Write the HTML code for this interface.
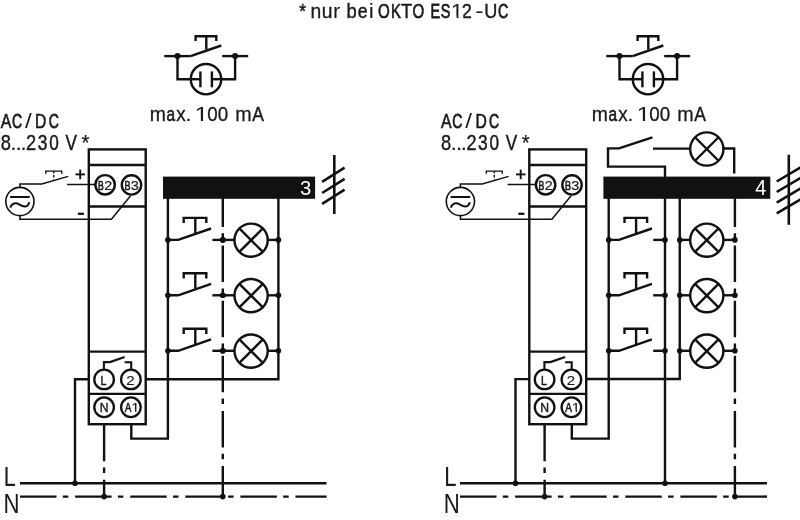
<!DOCTYPE html>
<html><head><meta charset="utf-8"><style>
html,body{margin:0;padding:0;background:#fff;}
svg{display:block;filter:grayscale(1);}
text{font-family:"Liberation Sans",sans-serif;}
</style></head><body>
<svg width="800" height="520" viewBox="0 0 800 520" stroke="#111" stroke-linecap="butt" stroke-linejoin="miter" fill="none">
<rect x="0" y="0" width="800" height="520" fill="#fff" stroke="none"/>
<clipPath id="c1"><rect x="289.50" y="-42.10" width="228.30" height="57.92"/><rect x="289.50" y="15.32" width="161.98" height="22.08"/><rect x="456.51" y="15.32" width="1.99" height="22.08"/><rect x="463.35" y="15.32" width="54.45" height="22.08"/></clipPath>
<text y="17.90" font-size="21.08" fill="#1a1a1a" stroke="#1a1a1a" stroke-width="0.3" clip-path="url(#c1)" ><tspan x="299.22" textLength="6.75" lengthAdjust="spacingAndGlyphs" stroke-width="0.48">*</tspan> <tspan x="310.62" textLength="10.74" lengthAdjust="spacingAndGlyphs" font-size="19.50" stroke-width="0.31">n</tspan><tspan x="321.65" textLength="10.74" lengthAdjust="spacingAndGlyphs" font-size="19.50" stroke-width="0.31">u</tspan><tspan x="333.14" textLength="7.33" lengthAdjust="spacingAndGlyphs" font-size="19.50" stroke-width="0.06">r</tspan> <tspan x="346.41" textLength="10.26" lengthAdjust="spacingAndGlyphs" font-size="19.50" stroke-width="0.38">b</tspan><tspan x="357.85" textLength="9.84" lengthAdjust="spacingAndGlyphs" font-size="19.50" stroke-width="0.45">e</tspan><tspan x="368.76" textLength="5.20" lengthAdjust="spacingAndGlyphs" font-size="19.50" stroke-width="0.00">i</tspan> <tspan x="377.89" textLength="11.74" lengthAdjust="spacingAndGlyphs" stroke-width="0.69">O</tspan><tspan x="391.08" textLength="9.88" lengthAdjust="spacingAndGlyphs" stroke-width="0.71">K</tspan><tspan x="400.99" textLength="11.24" lengthAdjust="spacingAndGlyphs" stroke-width="0.39">T</tspan><tspan x="412.39" textLength="11.74" lengthAdjust="spacingAndGlyphs" stroke-width="0.69">O</tspan> <tspan x="430.44" textLength="9.56" lengthAdjust="spacingAndGlyphs" stroke-width="0.76">E</tspan><tspan x="440.65" textLength="9.62" lengthAdjust="spacingAndGlyphs" stroke-width="0.75">S</tspan><tspan x="450.83" textLength="12.55" lengthAdjust="spacingAndGlyphs" stroke-width="0.01">1</tspan><tspan x="461.68" textLength="10.13" lengthAdjust="spacingAndGlyphs" stroke-width="0.40">2</tspan><tspan x="475.31" textLength="8.42" lengthAdjust="spacingAndGlyphs" stroke-width="0.00">-</tspan><tspan x="484.20" textLength="13.10" lengthAdjust="spacingAndGlyphs" stroke-width="0.41">U</tspan><tspan x="498.01" textLength="10.35" lengthAdjust="spacingAndGlyphs" stroke-width="0.76">C</tspan></text>
<line x1="164.30" y1="56.10" x2="190.60" y2="56.10" stroke-width="2.4" />
<line x1="190.60" y1="56.10" x2="221.30" y2="45.50" stroke-width="2.4" />
<path d="M195.6,41 V36.2 H216.3 V41" stroke-width="2.4" fill="none" />
<line x1="206.30" y1="36.20" x2="206.30" y2="49.60" stroke-width="2.4" />
<line x1="222.20" y1="56.10" x2="248.20" y2="56.10" stroke-width="2.4" />
<circle cx="177.50" cy="56.10" r="3.0" fill="#111" stroke="none"/>
<circle cx="235.10" cy="56.10" r="3.0" fill="#111" stroke="none"/>
<path d="M177.5,56.1 V79.2 H190.8" stroke-width="2.4" fill="none" />
<path d="M235.1,56.1 V79.2 H221.2" stroke-width="2.4" fill="none" />
<circle cx="206.00" cy="79.20" r="15.2" stroke-width="2.4" fill="#fff"/>
<line x1="190.80" y1="79.20" x2="200.40" y2="79.20" stroke-width="2.4" />
<line x1="211.90" y1="79.20" x2="221.20" y2="79.20" stroke-width="2.4" />
<line x1="200.40" y1="71.40" x2="200.40" y2="87.30" stroke-width="2.4" />
<line x1="211.90" y1="71.40" x2="211.90" y2="87.30" stroke-width="2.4" />
<clipPath id="c2"><rect x="141.00" y="60.60" width="132.80" height="57.94"/><rect x="141.00" y="118.04" width="54.31" height="22.06"/><rect x="200.79" y="118.04" width="2.22" height="22.06"/><rect x="208.29" y="118.04" width="65.51" height="22.06"/></clipPath>
<text y="120.60" font-size="20.93" fill="#1a1a1a" stroke="#1a1a1a" stroke-width="0.3" clip-path="url(#c2)" ><tspan x="149.71" textLength="16.17" lengthAdjust="spacingAndGlyphs" font-size="20.54" stroke-width="0.30">m</tspan><tspan x="166.45" textLength="8.55" lengthAdjust="spacingAndGlyphs" font-size="20.54" stroke-width="0.66">a</tspan><tspan x="176.29" textLength="9.41" lengthAdjust="spacingAndGlyphs" font-size="20.54" stroke-width="0.35">x</tspan><tspan x="185.29" textLength="6.42" lengthAdjust="spacingAndGlyphs" stroke-width="0.00">.</tspan> <tspan x="194.47" textLength="13.97" lengthAdjust="spacingAndGlyphs" stroke-width="0.00">1</tspan><tspan x="207.36" textLength="10.47" lengthAdjust="spacingAndGlyphs" stroke-width="0.35">0</tspan><tspan x="217.86" textLength="10.47" lengthAdjust="spacingAndGlyphs" stroke-width="0.35">0</tspan> <tspan x="235.29" textLength="16.41" lengthAdjust="spacingAndGlyphs" font-size="20.54" stroke-width="0.27">m</tspan><tspan x="252.17" textLength="11.67" lengthAdjust="spacingAndGlyphs" stroke-width="0.47">A</tspan></text>
<text y="128.20" font-size="20.64" fill="#1a1a1a" stroke="#1a1a1a" stroke-width="0.3" ><tspan x="0.82" textLength="10.61" lengthAdjust="spacingAndGlyphs" stroke-width="0.61">A</tspan><tspan x="11.99" textLength="10.15" lengthAdjust="spacingAndGlyphs" stroke-width="0.78">C</tspan><tspan x="25.00" textLength="6.75" lengthAdjust="spacingAndGlyphs" stroke-width="0.00">/</tspan><tspan x="35.11" textLength="11.34" lengthAdjust="spacingAndGlyphs" stroke-width="0.63">D</tspan><tspan x="48.79" textLength="10.15" lengthAdjust="spacingAndGlyphs" stroke-width="0.78">C</tspan></text>
<text y="149.70" font-size="21.51" fill="#1a1a1a" stroke="#1a1a1a" stroke-width="0.3" ><tspan x="0.70" textLength="10.19" lengthAdjust="spacingAndGlyphs" stroke-width="0.39">8</tspan><tspan x="10.29" textLength="6.42" lengthAdjust="spacingAndGlyphs" stroke-width="0.00">.</tspan><tspan x="15.39" textLength="6.71" lengthAdjust="spacingAndGlyphs" stroke-width="0.00">.</tspan><tspan x="20.34" textLength="6.57" lengthAdjust="spacingAndGlyphs" stroke-width="0.00">.</tspan><tspan x="26.08" textLength="10.13" lengthAdjust="spacingAndGlyphs" stroke-width="0.40">2</tspan><tspan x="37.64" textLength="9.62" lengthAdjust="spacingAndGlyphs" stroke-width="0.49">3</tspan><tspan x="49.23" textLength="9.54" lengthAdjust="spacingAndGlyphs" stroke-width="0.50">0</tspan> <tspan x="65.42" textLength="11.45" lengthAdjust="spacingAndGlyphs" stroke-width="0.50">V</tspan> <tspan x="81.57" textLength="7.95" lengthAdjust="spacingAndGlyphs" stroke-width="0.21">*</tspan></text>
<circle cx="19.90" cy="201.50" r="14.1" stroke-width="1.6" fill="#fff"/>
<line x1="10.10" y1="197.00" x2="29.70" y2="197.00" stroke-width="2.0" />
<path d="M10.2,207.6 C11.8,203.2 15.5,202.2 19.5,204.6 C23.5,207.0 27.6,207.8 29.4,202.2" stroke-width="2.0" fill="none" />
<path d="M19.9,187.4 V184 H41.7 L68.2,176.4" stroke-width="1.5" fill="none" />
<path d="M45.8,173.8 V171.1 H61.7 V173.8" stroke-width="1.4" fill="none" />
<line x1="53.80" y1="171.00" x2="53.80" y2="179.50" stroke-width="1.4" stroke-dasharray="2.6 1.4"/>
<line x1="67.10" y1="184.50" x2="96.00" y2="184.50" stroke-width="1.5" />
<path d="M19.9,215.6 V219.3 H111.4 L130.6,195.8" stroke-width="1.5" fill="none" />
<line x1="75.50" y1="174.40" x2="85.00" y2="174.40" stroke-width="1.9" />
<line x1="80.20" y1="169.60" x2="80.20" y2="179.20" stroke-width="1.9" />
<line x1="77.80" y1="213.80" x2="83.90" y2="213.80" stroke-width="2.3" />
<rect x="88.8" y="149.4" width="56.90" height="274.80" stroke-width="2.4" fill="none"/>
<line x1="88.80" y1="165.00" x2="145.70" y2="165.00" stroke-width="2.4" />
<line x1="88.80" y1="206.50" x2="145.70" y2="206.50" stroke-width="2.4" />
<line x1="88.80" y1="351.60" x2="145.70" y2="351.60" stroke-width="2.4" />
<line x1="88.80" y1="393.90" x2="145.70" y2="393.90" stroke-width="2.4" />
<circle cx="105.10" cy="184.80" r="9.7" stroke-width="2.4" fill="#fff"/>
<circle cx="131.50" cy="184.90" r="9.7" stroke-width="2.4" fill="#fff"/>
<text y="189.70" font-size="12.50" fill="#1a1a1a" stroke="#1a1a1a" stroke-width="0.3" ><tspan x="98.09" textLength="5.76" lengthAdjust="spacingAndGlyphs" stroke-width="0.72">B</tspan><tspan x="104.28" textLength="7.94" lengthAdjust="spacingAndGlyphs" stroke-width="0.21">2</tspan></text>
<text y="189.70" font-size="12.50" fill="#1a1a1a" stroke="#1a1a1a" stroke-width="0.3" ><tspan x="124.46" textLength="6.02" lengthAdjust="spacingAndGlyphs" stroke-width="0.69">B</tspan><tspan x="130.75" textLength="8.09" lengthAdjust="spacingAndGlyphs" stroke-width="0.19">3</tspan></text>
<path d="M103.9,370 V362.1 H110.0 L124.6,356.9" stroke-width="2.1" fill="none" />
<path d="M131.2,370 V362.3 H124.6" stroke-width="2.1" fill="none" />
<circle cx="104.10" cy="379.40" r="9.8" stroke-width="2.3" fill="#fff"/>
<circle cx="130.90" cy="379.40" r="9.8" stroke-width="2.3" fill="#fff"/>
<circle cx="104.10" cy="407.25" r="9.8" stroke-width="2.3" fill="#fff"/>
<circle cx="130.90" cy="407.25" r="9.8" stroke-width="2.3" fill="#fff"/>
<text y="384.60" font-size="12.50" fill="#1a1a1a" stroke="#1a1a1a" stroke-width="0.3" ><tspan x="100.43" textLength="5.93" lengthAdjust="spacingAndGlyphs" stroke-width="0.54">L</tspan></text>
<text y="384.60" font-size="12.50" fill="#1a1a1a" stroke="#1a1a1a" stroke-width="0.3" ><tspan x="126.23" textLength="8.34" lengthAdjust="spacingAndGlyphs" stroke-width="0.14">2</tspan></text>
<text y="412.10" font-size="12.50" fill="#1a1a1a" stroke="#1a1a1a" stroke-width="0.3" ><tspan x="99.80" textLength="8.79" lengthAdjust="spacingAndGlyphs" stroke-width="0.40">N</tspan></text>
<clipPath id="c3"><rect x="114.70" y="352.10" width="32.10" height="58.49"/><rect x="114.70" y="410.09" width="16.78" height="21.51"/><rect x="135.15" y="410.09" width="1.33" height="21.51"/><rect x="140.03" y="410.09" width="6.77" height="21.51"/></clipPath>
<text y="412.10" font-size="12.50" fill="#1a1a1a" stroke="#1a1a1a" stroke-width="0.3" clip-path="url(#c3)" ><tspan x="124.68" textLength="6.74" lengthAdjust="spacingAndGlyphs" stroke-width="0.59">A</tspan><tspan x="131.38" textLength="8.34" lengthAdjust="spacingAndGlyphs" stroke-width="0.14">1</tspan></text>
<rect x="163" y="176.6" width="152.1" height="22.2" fill="#111" stroke="none"/>
<text y="195.20" font-size="20.93" fill="#fff" stroke="#fff" stroke-width="0.3" ><tspan x="300.03" textLength="11.26" lengthAdjust="spacingAndGlyphs" stroke-width="0.00">3</tspan></text>
<line x1="334.30" y1="155.00" x2="334.30" y2="214.00" stroke-width="2.6" />
<line x1="322.10" y1="181.90" x2="344.60" y2="167.72" stroke-width="2.6" />
<line x1="322.10" y1="193.00" x2="344.60" y2="178.82" stroke-width="2.6" />
<line x1="322.10" y1="203.80" x2="344.60" y2="189.62" stroke-width="2.6" />
<line x1="222.80" y1="198.00" x2="222.80" y2="496.60" stroke-width="2.4" stroke-dasharray="36.5 6.3 5.5 6.8" stroke-dashoffset="7.5"/>
<path d="M145.7,379.25 H278.4 V198" stroke-width="2.4" fill="none" />
<path d="M131.3,424.2 V438.6 H167.9 V198" stroke-width="2.4" fill="none" />
<path d="M88.8,379.2 H75.0 V483.3" stroke-width="2.4" fill="none" />
<line x1="104.10" y1="424.70" x2="104.10" y2="496.60" stroke-width="2.4" stroke-dasharray="36.5 6.3 5.5 6.8"/>
<circle cx="167.90" cy="239.90" r="2.8" fill="#111" stroke="none"/>
<path d="M167.9,239.9 H178.20000000000002 L211.10000000000002,228.5" stroke-width="2.4" fill="none" />
<path d="M183.70000000000002,223.1 V217.9 H206.3 V223.1" stroke-width="2.4" fill="none" />
<line x1="195.30" y1="217.90" x2="195.30" y2="233.40" stroke-width="2.4" />
<line x1="212.40" y1="239.90" x2="222.80" y2="239.90" stroke-width="2.4" />
<circle cx="222.80" cy="239.90" r="2.8" fill="#111" stroke="none"/>
<circle cx="222.80" cy="239.90" r="2.8" fill="#111" stroke="none"/>
<circle cx="278.40" cy="239.90" r="2.8" fill="#111" stroke="none"/>
<line x1="222.80" y1="239.90" x2="234.50" y2="239.90" stroke-width="2.4" />
<line x1="267.70" y1="239.90" x2="278.40" y2="239.90" stroke-width="2.4" />
<circle cx="251.10" cy="240.20" r="16.6" stroke-width="2.4" fill="#fff"/>
<line x1="239.36" y1="228.46" x2="262.84" y2="251.94" stroke-width="2.4" />
<line x1="239.36" y1="251.94" x2="262.84" y2="228.46" stroke-width="2.4" />
<circle cx="167.90" cy="295.30" r="2.8" fill="#111" stroke="none"/>
<path d="M167.9,295.3 H178.20000000000002 L211.10000000000002,283.90000000000003" stroke-width="2.4" fill="none" />
<path d="M183.70000000000002,278.5 V273.3 H206.3 V278.5" stroke-width="2.4" fill="none" />
<line x1="195.30" y1="273.30" x2="195.30" y2="288.80" stroke-width="2.4" />
<line x1="212.40" y1="295.30" x2="222.80" y2="295.30" stroke-width="2.4" />
<circle cx="222.80" cy="295.30" r="2.8" fill="#111" stroke="none"/>
<circle cx="222.80" cy="295.30" r="2.8" fill="#111" stroke="none"/>
<circle cx="278.40" cy="295.30" r="2.8" fill="#111" stroke="none"/>
<line x1="222.80" y1="295.30" x2="234.50" y2="295.30" stroke-width="2.4" />
<line x1="267.70" y1="295.30" x2="278.40" y2="295.30" stroke-width="2.4" />
<circle cx="251.10" cy="295.60" r="16.6" stroke-width="2.4" fill="#fff"/>
<line x1="239.36" y1="283.86" x2="262.84" y2="307.34" stroke-width="2.4" />
<line x1="239.36" y1="307.34" x2="262.84" y2="283.86" stroke-width="2.4" />
<circle cx="167.90" cy="350.80" r="2.8" fill="#111" stroke="none"/>
<path d="M167.9,350.8 H178.20000000000002 L211.10000000000002,339.40000000000003" stroke-width="2.4" fill="none" />
<path d="M183.70000000000002,334.0 V328.8 H206.3 V334.0" stroke-width="2.4" fill="none" />
<line x1="195.30" y1="328.80" x2="195.30" y2="344.30" stroke-width="2.4" />
<line x1="212.40" y1="350.80" x2="222.80" y2="350.80" stroke-width="2.4" />
<circle cx="222.80" cy="350.80" r="2.8" fill="#111" stroke="none"/>
<circle cx="222.80" cy="350.80" r="2.8" fill="#111" stroke="none"/>
<circle cx="278.40" cy="350.80" r="2.8" fill="#111" stroke="none"/>
<line x1="222.80" y1="350.80" x2="234.50" y2="350.80" stroke-width="2.4" />
<line x1="267.70" y1="350.80" x2="278.40" y2="350.80" stroke-width="2.4" />
<circle cx="251.10" cy="351.10" r="16.6" stroke-width="2.4" fill="#fff"/>
<line x1="239.36" y1="339.36" x2="262.84" y2="362.84" stroke-width="2.4" />
<line x1="239.36" y1="362.84" x2="262.84" y2="339.36" stroke-width="2.4" />
<line x1="20.00" y1="483.30" x2="326.60" y2="483.30" stroke-width="2.4" />
<line x1="20.00" y1="496.60" x2="326.60" y2="496.60" stroke-width="2.4" stroke-dasharray="36.5 6.3 5.5 6.8"/>
<circle cx="75.00" cy="483.30" r="2.8" fill="#111" stroke="none"/>
<circle cx="104.10" cy="496.60" r="2.8" fill="#111" stroke="none"/>
<circle cx="222.80" cy="496.60" r="2.8" fill="#111" stroke="none"/>
<text y="485.60" font-size="27.62" fill="#1a1a1a" stroke="#1a1a1a" stroke-width="0.3" ><tspan x="3.83" textLength="11.98" lengthAdjust="spacingAndGlyphs" stroke-width="0.10">L</tspan></text>
<text y="513.40" font-size="27.62" fill="#1a1a1a" stroke="#1a1a1a" stroke-width="0.3" ><tspan x="3.58" textLength="16.03" lengthAdjust="spacingAndGlyphs" stroke-width="0.04">N</tspan></text>
<line x1="606.30" y1="56.10" x2="632.60" y2="56.10" stroke-width="2.4" />
<line x1="632.60" y1="56.10" x2="663.30" y2="45.50" stroke-width="2.4" />
<path d="M637.6,41 V36.2 H658.3 V41" stroke-width="2.4" fill="none" />
<line x1="648.30" y1="36.20" x2="648.30" y2="49.60" stroke-width="2.4" />
<line x1="664.20" y1="56.10" x2="690.20" y2="56.10" stroke-width="2.4" />
<circle cx="619.50" cy="56.10" r="3.0" fill="#111" stroke="none"/>
<circle cx="677.10" cy="56.10" r="3.0" fill="#111" stroke="none"/>
<path d="M619.5,56.1 V79.2 H632.8" stroke-width="2.4" fill="none" />
<path d="M677.1,56.1 V79.2 H663.2" stroke-width="2.4" fill="none" />
<circle cx="648.00" cy="79.20" r="15.2" stroke-width="2.4" fill="#fff"/>
<line x1="632.80" y1="79.20" x2="642.40" y2="79.20" stroke-width="2.4" />
<line x1="653.90" y1="79.20" x2="663.20" y2="79.20" stroke-width="2.4" />
<line x1="642.40" y1="71.40" x2="642.40" y2="87.30" stroke-width="2.4" />
<line x1="653.90" y1="71.40" x2="653.90" y2="87.30" stroke-width="2.4" />
<clipPath id="c4"><rect x="583.00" y="60.60" width="132.80" height="57.94"/><rect x="583.00" y="118.04" width="54.31" height="22.06"/><rect x="642.79" y="118.04" width="2.22" height="22.06"/><rect x="650.29" y="118.04" width="65.51" height="22.06"/></clipPath>
<text y="120.60" font-size="20.93" fill="#1a1a1a" stroke="#1a1a1a" stroke-width="0.3" clip-path="url(#c4)" ><tspan x="591.71" textLength="16.17" lengthAdjust="spacingAndGlyphs" font-size="20.54" stroke-width="0.30">m</tspan><tspan x="608.45" textLength="8.55" lengthAdjust="spacingAndGlyphs" font-size="20.54" stroke-width="0.66">a</tspan><tspan x="618.29" textLength="9.41" lengthAdjust="spacingAndGlyphs" font-size="20.54" stroke-width="0.35">x</tspan><tspan x="627.29" textLength="6.42" lengthAdjust="spacingAndGlyphs" stroke-width="0.00">.</tspan> <tspan x="636.47" textLength="13.97" lengthAdjust="spacingAndGlyphs" stroke-width="0.00">1</tspan><tspan x="649.36" textLength="10.47" lengthAdjust="spacingAndGlyphs" stroke-width="0.35">0</tspan><tspan x="659.86" textLength="10.47" lengthAdjust="spacingAndGlyphs" stroke-width="0.35">0</tspan> <tspan x="677.29" textLength="16.41" lengthAdjust="spacingAndGlyphs" font-size="20.54" stroke-width="0.27">m</tspan><tspan x="694.17" textLength="11.67" lengthAdjust="spacingAndGlyphs" stroke-width="0.47">A</tspan></text>
<text y="128.20" font-size="20.64" fill="#1a1a1a" stroke="#1a1a1a" stroke-width="0.3" ><tspan x="441.12" textLength="10.61" lengthAdjust="spacingAndGlyphs" stroke-width="0.61">A</tspan><tspan x="452.29" textLength="10.15" lengthAdjust="spacingAndGlyphs" stroke-width="0.78">C</tspan><tspan x="465.30" textLength="6.75" lengthAdjust="spacingAndGlyphs" stroke-width="0.00">/</tspan><tspan x="475.41" textLength="11.34" lengthAdjust="spacingAndGlyphs" stroke-width="0.63">D</tspan><tspan x="489.09" textLength="10.15" lengthAdjust="spacingAndGlyphs" stroke-width="0.78">C</tspan></text>
<text y="149.70" font-size="21.51" fill="#1a1a1a" stroke="#1a1a1a" stroke-width="0.3" ><tspan x="441.00" textLength="10.19" lengthAdjust="spacingAndGlyphs" stroke-width="0.39">8</tspan><tspan x="450.59" textLength="6.42" lengthAdjust="spacingAndGlyphs" stroke-width="0.00">.</tspan><tspan x="455.69" textLength="6.71" lengthAdjust="spacingAndGlyphs" stroke-width="0.00">.</tspan><tspan x="460.64" textLength="6.57" lengthAdjust="spacingAndGlyphs" stroke-width="0.00">.</tspan><tspan x="466.38" textLength="10.13" lengthAdjust="spacingAndGlyphs" stroke-width="0.40">2</tspan><tspan x="477.94" textLength="9.62" lengthAdjust="spacingAndGlyphs" stroke-width="0.49">3</tspan><tspan x="489.53" textLength="9.54" lengthAdjust="spacingAndGlyphs" stroke-width="0.50">0</tspan> <tspan x="505.72" textLength="11.45" lengthAdjust="spacingAndGlyphs" stroke-width="0.50">V</tspan> <tspan x="521.87" textLength="7.95" lengthAdjust="spacingAndGlyphs" stroke-width="0.21">*</tspan></text>
<circle cx="460.40" cy="201.50" r="14.1" stroke-width="1.6" fill="#fff"/>
<line x1="450.60" y1="197.00" x2="470.20" y2="197.00" stroke-width="2.0" />
<path d="M450.7,207.6 C452.3,203.2 456.0,202.2 460.0,204.6 C464.0,207.0 468.1,207.8 469.9,202.2" stroke-width="2.0" fill="none" />
<path d="M460.4,187.4 V184 H482.2 L508.7,176.4" stroke-width="1.5" fill="none" />
<path d="M486.3,173.8 V171.1 H502.2 V173.8" stroke-width="1.4" fill="none" />
<line x1="494.30" y1="171.00" x2="494.30" y2="179.50" stroke-width="1.4" stroke-dasharray="2.6 1.4"/>
<line x1="507.60" y1="184.50" x2="536.50" y2="184.50" stroke-width="1.5" />
<path d="M460.4,215.6 V219.3 H551.9 L571.1,195.8" stroke-width="1.5" fill="none" />
<line x1="516.00" y1="174.40" x2="525.50" y2="174.40" stroke-width="1.9" />
<line x1="520.70" y1="169.60" x2="520.70" y2="179.20" stroke-width="1.9" />
<line x1="518.30" y1="213.80" x2="524.40" y2="213.80" stroke-width="2.3" />
<rect x="529.3" y="149.4" width="56.90" height="274.80" stroke-width="2.4" fill="none"/>
<line x1="529.30" y1="165.00" x2="586.20" y2="165.00" stroke-width="2.4" />
<line x1="529.30" y1="206.50" x2="586.20" y2="206.50" stroke-width="2.4" />
<line x1="529.30" y1="351.60" x2="586.20" y2="351.60" stroke-width="2.4" />
<line x1="529.30" y1="393.90" x2="586.20" y2="393.90" stroke-width="2.4" />
<circle cx="545.60" cy="184.80" r="9.7" stroke-width="2.4" fill="#fff"/>
<circle cx="572.00" cy="184.90" r="9.7" stroke-width="2.4" fill="#fff"/>
<text y="189.70" font-size="12.50" fill="#1a1a1a" stroke="#1a1a1a" stroke-width="0.3" ><tspan x="538.59" textLength="5.76" lengthAdjust="spacingAndGlyphs" stroke-width="0.72">B</tspan><tspan x="544.78" textLength="7.94" lengthAdjust="spacingAndGlyphs" stroke-width="0.21">2</tspan></text>
<text y="189.70" font-size="12.50" fill="#1a1a1a" stroke="#1a1a1a" stroke-width="0.3" ><tspan x="564.96" textLength="6.02" lengthAdjust="spacingAndGlyphs" stroke-width="0.69">B</tspan><tspan x="571.25" textLength="8.09" lengthAdjust="spacingAndGlyphs" stroke-width="0.19">3</tspan></text>
<path d="M544.4,370 V362.1 H550.5 L565.1,356.9" stroke-width="2.1" fill="none" />
<path d="M571.7,370 V362.3 H565.1" stroke-width="2.1" fill="none" />
<circle cx="544.60" cy="379.40" r="9.8" stroke-width="2.3" fill="#fff"/>
<circle cx="571.40" cy="379.40" r="9.8" stroke-width="2.3" fill="#fff"/>
<circle cx="544.60" cy="407.25" r="9.8" stroke-width="2.3" fill="#fff"/>
<circle cx="571.40" cy="407.25" r="9.8" stroke-width="2.3" fill="#fff"/>
<text y="384.60" font-size="12.50" fill="#1a1a1a" stroke="#1a1a1a" stroke-width="0.3" ><tspan x="540.93" textLength="5.93" lengthAdjust="spacingAndGlyphs" stroke-width="0.54">L</tspan></text>
<text y="384.60" font-size="12.50" fill="#1a1a1a" stroke="#1a1a1a" stroke-width="0.3" ><tspan x="566.73" textLength="8.34" lengthAdjust="spacingAndGlyphs" stroke-width="0.14">2</tspan></text>
<text y="412.10" font-size="12.50" fill="#1a1a1a" stroke="#1a1a1a" stroke-width="0.3" ><tspan x="540.30" textLength="8.79" lengthAdjust="spacingAndGlyphs" stroke-width="0.40">N</tspan></text>
<clipPath id="c5"><rect x="555.20" y="352.10" width="32.10" height="58.49"/><rect x="555.20" y="410.09" width="16.78" height="21.51"/><rect x="575.65" y="410.09" width="1.33" height="21.51"/><rect x="580.53" y="410.09" width="6.77" height="21.51"/></clipPath>
<text y="412.10" font-size="12.50" fill="#1a1a1a" stroke="#1a1a1a" stroke-width="0.3" clip-path="url(#c5)" ><tspan x="565.18" textLength="6.74" lengthAdjust="spacingAndGlyphs" stroke-width="0.59">A</tspan><tspan x="571.88" textLength="8.34" lengthAdjust="spacingAndGlyphs" stroke-width="0.14">1</tspan></text>
<rect x="603.4" y="176.6" width="166.9" height="22.2" fill="#111" stroke="none"/>
<text y="195.40" font-size="21.51" fill="#fff" stroke="#fff" stroke-width="0.3" ><tspan x="755.24" textLength="11.04" lengthAdjust="spacingAndGlyphs" stroke-width="0.01">4</tspan></text>
<line x1="788.80" y1="154.70" x2="788.80" y2="224.80" stroke-width="2.6" />
<line x1="776.70" y1="181.50" x2="803.00" y2="165.98" stroke-width="2.6" />
<line x1="776.70" y1="192.00" x2="803.00" y2="176.48" stroke-width="2.6" />
<line x1="776.70" y1="202.60" x2="803.00" y2="187.08" stroke-width="2.6" />
<line x1="776.70" y1="213.40" x2="803.00" y2="197.88" stroke-width="2.6" />
<path d="M665,177 V166.6 H608 V148.4 H619 L652.4,137.4" stroke-width="2.4" fill="none" />
<path d="M653,148.6 H690.2" stroke-width="2.4" fill="none" />
<circle cx="706.80" cy="149.00" r="16.6" stroke-width="2.4" fill="#fff"/>
<line x1="695.06" y1="137.26" x2="718.54" y2="160.74" stroke-width="2.4" />
<line x1="695.06" y1="160.74" x2="718.54" y2="137.26" stroke-width="2.4" />
<path d="M723.0,148.5 H734.2 V173.6" stroke-width="2.4" fill="none" />
<line x1="665.00" y1="198.00" x2="665.00" y2="483.30" stroke-width="2.4" />
<line x1="734.90" y1="198.00" x2="734.90" y2="496.60" stroke-width="2.4" stroke-dasharray="36.5 6.3 5.5 6.8" stroke-dashoffset="7.5"/>
<path d="M586.2,379.0 H679.75 V198" stroke-width="2.4" fill="none" />
<path d="M571.8,424.2 V438.6 H608.7 V198" stroke-width="2.4" fill="none" />
<path d="M529.3,379.1 H515.5 V483.3" stroke-width="2.4" fill="none" />
<line x1="544.60" y1="424.70" x2="544.60" y2="496.60" stroke-width="2.4" stroke-dasharray="36.5 6.3 5.5 6.8"/>
<circle cx="608.70" cy="239.90" r="2.8" fill="#111" stroke="none"/>
<path d="M608.7,239.9 H619.0 L651.9000000000001,228.5" stroke-width="2.4" fill="none" />
<path d="M624.5,223.1 V217.9 H647.1 V223.1" stroke-width="2.4" fill="none" />
<line x1="636.10" y1="217.90" x2="636.10" y2="233.40" stroke-width="2.4" />
<line x1="653.20" y1="239.90" x2="665.00" y2="239.90" stroke-width="2.4" />
<circle cx="665.00" cy="239.90" r="2.8" fill="#111" stroke="none"/>
<circle cx="679.75" cy="239.90" r="2.8" fill="#111" stroke="none"/>
<circle cx="734.90" cy="239.90" r="2.8" fill="#111" stroke="none"/>
<line x1="679.75" y1="239.90" x2="690.20" y2="239.90" stroke-width="2.4" />
<line x1="723.40" y1="239.90" x2="734.90" y2="239.90" stroke-width="2.4" />
<circle cx="706.80" cy="240.20" r="16.6" stroke-width="2.4" fill="#fff"/>
<line x1="695.06" y1="228.46" x2="718.54" y2="251.94" stroke-width="2.4" />
<line x1="695.06" y1="251.94" x2="718.54" y2="228.46" stroke-width="2.4" />
<circle cx="608.70" cy="295.30" r="2.8" fill="#111" stroke="none"/>
<path d="M608.7,295.3 H619.0 L651.9000000000001,283.90000000000003" stroke-width="2.4" fill="none" />
<path d="M624.5,278.5 V273.3 H647.1 V278.5" stroke-width="2.4" fill="none" />
<line x1="636.10" y1="273.30" x2="636.10" y2="288.80" stroke-width="2.4" />
<line x1="653.20" y1="295.30" x2="665.00" y2="295.30" stroke-width="2.4" />
<circle cx="665.00" cy="295.30" r="2.8" fill="#111" stroke="none"/>
<circle cx="679.75" cy="295.30" r="2.8" fill="#111" stroke="none"/>
<circle cx="734.90" cy="295.30" r="2.8" fill="#111" stroke="none"/>
<line x1="679.75" y1="295.30" x2="690.20" y2="295.30" stroke-width="2.4" />
<line x1="723.40" y1="295.30" x2="734.90" y2="295.30" stroke-width="2.4" />
<circle cx="706.80" cy="295.60" r="16.6" stroke-width="2.4" fill="#fff"/>
<line x1="695.06" y1="283.86" x2="718.54" y2="307.34" stroke-width="2.4" />
<line x1="695.06" y1="307.34" x2="718.54" y2="283.86" stroke-width="2.4" />
<circle cx="608.70" cy="350.80" r="2.8" fill="#111" stroke="none"/>
<path d="M608.7,350.8 H619.0 L651.9000000000001,339.40000000000003" stroke-width="2.4" fill="none" />
<path d="M624.5,334.0 V328.8 H647.1 V334.0" stroke-width="2.4" fill="none" />
<line x1="636.10" y1="328.80" x2="636.10" y2="344.30" stroke-width="2.4" />
<line x1="653.20" y1="350.80" x2="665.00" y2="350.80" stroke-width="2.4" />
<circle cx="665.00" cy="350.80" r="2.8" fill="#111" stroke="none"/>
<circle cx="679.75" cy="350.80" r="2.8" fill="#111" stroke="none"/>
<circle cx="734.90" cy="350.80" r="2.8" fill="#111" stroke="none"/>
<line x1="679.75" y1="350.80" x2="690.20" y2="350.80" stroke-width="2.4" />
<line x1="723.40" y1="350.80" x2="734.90" y2="350.80" stroke-width="2.4" />
<circle cx="706.80" cy="351.10" r="16.6" stroke-width="2.4" fill="#fff"/>
<line x1="695.06" y1="339.36" x2="718.54" y2="362.84" stroke-width="2.4" />
<line x1="695.06" y1="362.84" x2="718.54" y2="339.36" stroke-width="2.4" />
<line x1="460.00" y1="483.30" x2="767.00" y2="483.30" stroke-width="2.4" />
<line x1="460.00" y1="496.60" x2="767.00" y2="496.60" stroke-width="2.4" stroke-dasharray="36.5 6.3 5.5 6.8"/>
<circle cx="515.50" cy="483.30" r="2.8" fill="#111" stroke="none"/>
<circle cx="665.00" cy="483.30" r="2.8" fill="#111" stroke="none"/>
<circle cx="544.60" cy="496.60" r="2.8" fill="#111" stroke="none"/>
<circle cx="734.90" cy="496.60" r="2.8" fill="#111" stroke="none"/>
<text y="485.60" font-size="27.62" fill="#1a1a1a" stroke="#1a1a1a" stroke-width="0.3" ><tspan x="444.30" textLength="12.24" lengthAdjust="spacingAndGlyphs" stroke-width="0.06">L</tspan></text>
<text y="513.40" font-size="27.62" fill="#1a1a1a" stroke="#1a1a1a" stroke-width="0.3" ><tspan x="443.68" textLength="16.03" lengthAdjust="spacingAndGlyphs" stroke-width="0.04">N</tspan></text>
</svg>
</body></html>
